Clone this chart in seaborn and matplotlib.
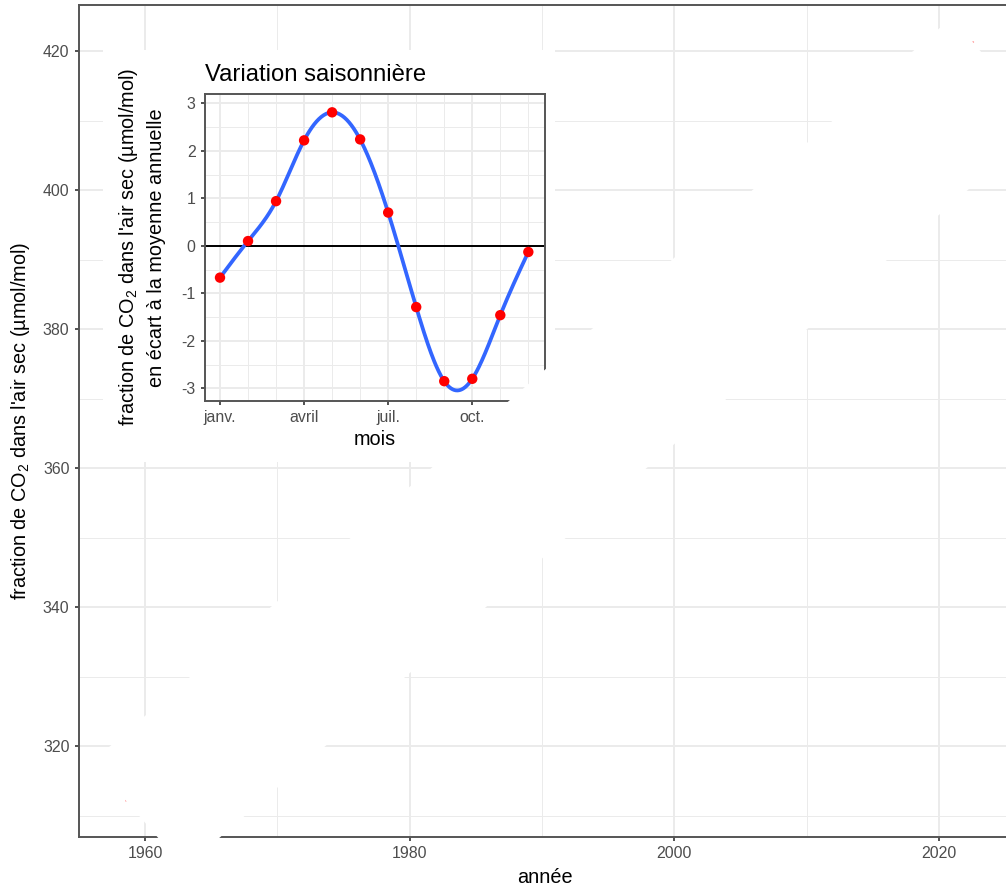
import numpy as np
import pandas as pd
import matplotlib
matplotlib.use("Agg")
import matplotlib.pyplot as plt
import seaborn as sns
from matplotlib.patches import Rectangle
from matplotlib.transforms import Bbox, TransformedBbox
from matplotlib.ticker import FixedLocator

# ---------------- data ----------------
# main panel: the (white) trend band, drawn from its two end points
band_year = [1959.49, 2024.43]
band_ppm = [310.09, 417.12]
# faint red end markers
end_year = [1958.56, 2022.58]
end_ppm = [312.13, 421.29]

main_xticks = [1960, 1980, 2000, 2020]
main_xminor = [1970, 1990, 2010]
main_yticks = [320, 340, 360, 380, 400, 420]
main_yminor = [310, 330, 350, 370, 390, 410]

# inset: seasonal variation
months = [1, 2, 3, 4, 5, 6, 7, 8, 9, 10, 11, 12]
seasonal = [-0.67, 0.10, 0.94, 2.22, 2.81, 2.24, 0.70, -1.29, -2.85, -2.80, -1.46, -0.13]
month_ticks = [1, 4, 7, 10]
month_labels = ["janv.", "avril", "juil.", "oct."]
inset_yticks = [-3, -2, -1, 0, 1, 2, 3]
inset_yminor = [-2.5, -1.5, -0.5, 0.5, 1.5, 2.5]


def natural_spline(x, y, n_pts=400):
    x = np.asarray(x, float)
    y = np.asarray(y, float)
    n = len(x)
    h = np.diff(x)
    A = np.zeros((n, n))
    r = np.zeros(n)
    A[0, 0] = 1.0
    A[-1, -1] = 1.0
    for i in range(1, n - 1):
        A[i, i - 1] = h[i - 1]
        A[i, i] = 2 * (h[i - 1] + h[i])
        A[i, i + 1] = h[i]
        r[i] = 3 * ((y[i + 1] - y[i]) / h[i] - (y[i] - y[i - 1]) / h[i - 1])
    c = np.linalg.solve(A, r)
    b = (y[1:] - y[:-1]) / h - h * (2 * c[:-1] + c[1:]) / 3
    d = (c[1:] - c[:-1]) / (3 * h)
    xs = np.linspace(x[0], x[-1], n_pts)
    idx = np.clip(np.searchsorted(x, xs) - 1, 0, n - 2)
    dx = xs - x[idx]
    ys = y[idx] + b[idx] * dx + c[idx] * dx ** 2 + d[idx] * dx ** 3
    return xs, ys


# ---------------- style ----------------
sns.set_theme(style="white")
plt.rcParams["font.family"] = ["Liberation Sans", "DejaVu Sans"]
plt.rcParams["mathtext.fontset"] = "custom"
plt.rcParams["mathtext.rm"] = "Liberation Sans"
plt.rcParams["mathtext.it"] = "Liberation Sans:italic"
plt.rcParams["mathtext.bf"] = "Liberation Sans:bold"
plt.rcParams["axes.unicode_minus"] = False

GRID = "#EBEBEB"
BORDER = "#555555"
TICKLAB = "#4D4D4D"
FS_TICK = 11.4
FS_LAB = 14.3
FS_TITLE = 17.2

W, H = 1006, 888
fig = plt.figure(figsize=(W / 100, H / 100), dpi=100)
fig.patch.set_facecolor("white")


def px_rect(x0, y0, x1, y1):
    return [x0 / W, 1 - y1 / H, (x1 - x0) / W, (y1 - y0) / H]


XLIM = (1955.01, 2025.44)
YLIM = (306.95, 426.62)
main_rect = px_rect(79, 5, 1011, 836.7)


def style_axes(ax, xmaj, xmin, ymaj, ymin):
    ax.set_facecolor("white")
    ax.xaxis.set_major_locator(FixedLocator(xmaj))
    ax.xaxis.set_minor_locator(FixedLocator(xmin))
    ax.yaxis.set_major_locator(FixedLocator(ymaj))
    ax.yaxis.set_minor_locator(FixedLocator(ymin))
    ax.grid(which="major", color=GRID, linewidth=1.42)
    ax.grid(which="minor", color=GRID, linewidth=0.71)
    ax.set_axisbelow(True)
    for sp in ax.spines.values():
        sp.set_visible(True)
        sp.set_color(BORDER)
        sp.set_linewidth(1.4)
    ax.tick_params(which="major", direction="out", length=3.0, width=1.2,
                   color="#333333", labelsize=FS_TICK, labelcolor=TICKLAB, pad=3.8,
                   bottom=True, left=True, top=False, right=False)
    ax.tick_params(which="minor", length=0)


# ---------------- main panel ----------------
ax = fig.add_axes(main_rect, zorder=0)
style_axes(ax, main_xticks, main_xminor, main_yticks, main_yminor)
ax.set_xlim(*XLIM)
ax.set_ylim(*YLIM)
ax.set_xticks(main_xticks, labels=[str(v) for v in main_xticks])
ax.set_yticks(main_yticks, labels=[str(v) for v in main_yticks])
ax.set_xlabel("année", fontsize=FS_LAB, color="black", labelpad=5.2)
ax.set_ylabel("fraction de CO$_2$ dans l'air sec (µmol/mol)", fontsize=FS_LAB,
              color="black", labelpad=8)

# ---------------- inset background ----------------
bg = Rectangle((103 / W, 1 - 462 / H), 452 / W, 412 / H, transform=fig.transFigure,
               facecolor="white", edgecolor="none", zorder=1)
fig.add_artist(bg)

# ---------------- inset ----------------
axi = fig.add_axes(px_rect(205, 94, 545, 400.7), zorder=2)
style_axes(axi, month_ticks, [m for m in months if m not in month_ticks],
           inset_yticks, inset_yminor)
axi.set_xlim(0.465, 12.595)
axi.set_ylim(-3.261, 3.196)
axi.axhline(0, color="black", linewidth=1.42, zorder=2)
xs, ys = natural_spline(months, seasonal)
sns.lineplot(x=xs, y=ys, ax=axi, color="#3366FF", linewidth=2.7, zorder=3,
             sort=False, estimator=None)
sns.scatterplot(x=months, y=seasonal, ax=axi, color="red", s=56,
                edgecolor="none", linewidth=0, zorder=4)
axi.set_xticks(month_ticks, labels=month_labels)
axi.set_yticks(inset_yticks, labels=[str(v) for v in inset_yticks])
axi.set_xlim(0.465, 12.595)
axi.set_ylim(-3.261, 3.196)
axi.set_title("Variation saisonnière", loc="left", fontsize=FS_TITLE, pad=9,
              color="black")
axi.set_xlabel("mois", fontsize=FS_LAB, color="black", labelpad=3.5)
axi.set_ylabel("fraction de CO$_2$ dans l'air sec (µmol/mol)\n"
               "en écart à la moyenne annuelle", fontsize=FS_LAB, color="black",
               labelpad=11, linespacing=1.45, multialignment="center")

# ---------------- white trend band overlay (drawn on top) ----------------
axo = fig.add_axes(main_rect, zorder=3)
axo.set_axis_off()
sns.lineplot(x=band_year, y=band_ppm, ax=axo, color="white", linewidth=101.4,
             solid_capstyle="butt", sort=False, estimator=None)
sns.scatterplot(x=end_year, y=end_ppm, ax=axo, color="red", s=2, alpha=0.35,
                edgecolor="none", linewidth=0)
axo.set_xlim(*XLIM)
axo.set_ylim(*YLIM)
clip = TransformedBbox(Bbox([[79 / W, 1 - 839 / H], [1.0, 1 - 4 / H]]), fig.transFigure)
for ln in axo.lines:
    ln.set_clip_box(clip)

fig.savefig("out.png", dpi=100, facecolor="white")
